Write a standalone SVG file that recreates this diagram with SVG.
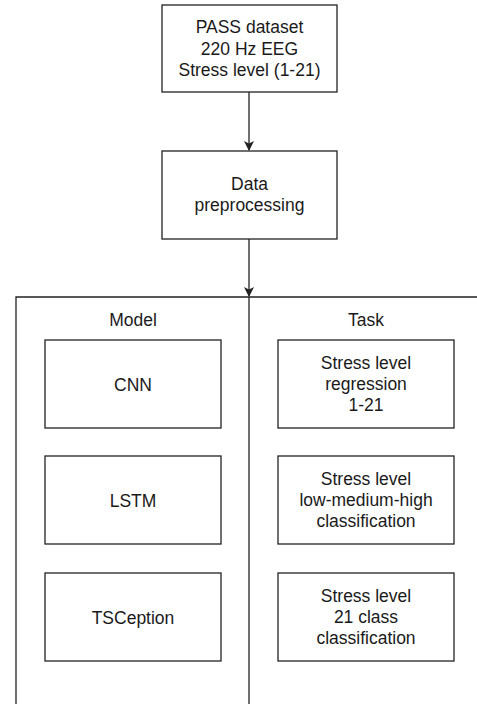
<svg xmlns="http://www.w3.org/2000/svg" width="477" height="704" viewBox="0 0 477 704">
<style>
.box{fill:#fff;stroke:#222;stroke-width:1.3}
.ln{fill:none;stroke:#222;stroke-width:1.3}
text{font-family:"Liberation Sans",Arial,sans-serif;font-size:17.5px;fill:#1a1a1a;text-anchor:middle}
</style>
<defs>
<marker id="ah" viewBox="0 0 10 10" refX="9" refY="5" markerWidth="10" markerHeight="10" markerUnits="userSpaceOnUse" orient="auto">
<path d="M0,0 L10,5 L0,10 L2.5,5 z" fill="#222"/>
</marker>
</defs>
<g id="container">
<path class="ln" d="M16,704 V297 H477"/>
<path class="ln" d="M249,297 V704"/>
<text x="133" y="326">Model</text>
<text x="366" y="326">Task</text>
</g>
<g id="connectors">
<path class="ln" d="M249,92 V150" marker-end="url(#ah)"/>
<path class="ln" d="M249,239 V296" marker-end="url(#ah)"/>
</g>
<g id="pass">
<rect class="box" x="162" y="5" width="175" height="87"/>
<text x="249.5" y="33">PASS dataset</text>
<text x="249.5" y="54.5">220 Hz EEG</text>
<text x="249.5" y="76">Stress level (1-21)</text>
</g>
<g id="preproc">
<rect class="box" x="162" y="151" width="175" height="88"/>
<text x="249.5" y="190">Data</text>
<text x="249.5" y="211">preprocessing</text>
</g>
<g id="cnn">
<rect class="box" x="45" y="340" width="176" height="88"/>
<text x="133" y="391">CNN</text>
</g>
<g id="lstm">
<rect class="box" x="45" y="456" width="176" height="88"/>
<text x="133" y="507">LSTM</text>
</g>
<g id="tsception">
<rect class="box" x="45" y="573" width="176" height="88"/>
<text x="133" y="624">TSCeption</text>
</g>
<g id="task1">
<rect class="box" x="278" y="340" width="176" height="88"/>
<text x="366" y="369">Stress level</text>
<text x="366" y="390">regression</text>
<text x="366" y="411">1-21</text>
</g>
<g id="task2">
<rect class="box" x="278" y="456" width="176" height="88"/>
<text x="366" y="485">Stress level</text>
<text x="366" y="506">low-medium-high</text>
<text x="366" y="527">classification</text>
</g>
<g id="task3">
<rect class="box" x="278" y="573" width="176" height="88"/>
<text x="366" y="602">Stress level</text>
<text x="366" y="623">21 class</text>
<text x="366" y="644">classification</text>
</g>
</svg>
